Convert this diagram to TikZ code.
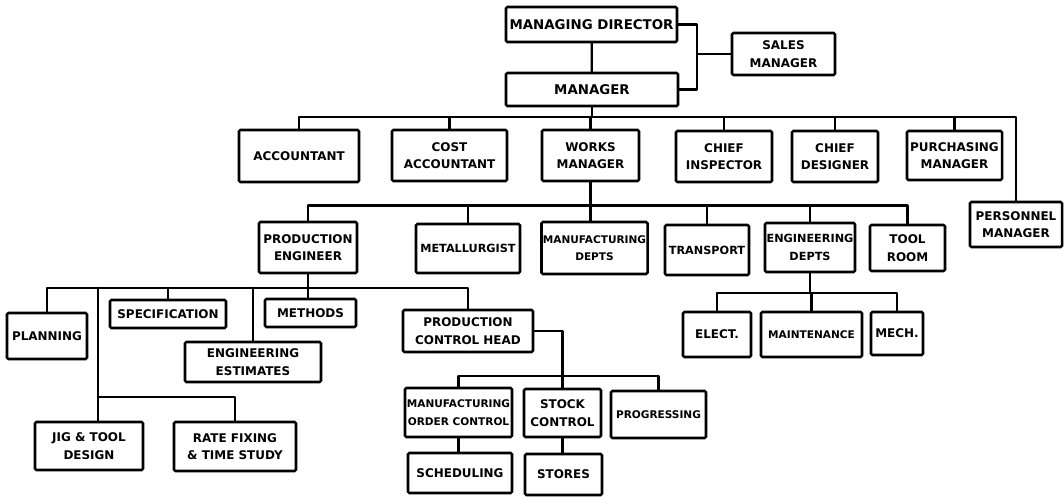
\documentclass[tikz,border=0pt]{standalone}
\usepackage{fontspec}
\setmainfont{DejaVu Sans}
\tikzset{
  orgbox/.style={draw, line width=1.8pt, rounded corners=1pt, inner sep=1pt, align=center,
    font=\fontsize{8.5}{12.5}\selectfont\bfseries},
  link/.style={line width=1.6pt, line cap=round, line join=round},
  small/.style={font=\fontsize{7.5}{12.5}\selectfont\bfseries},
  mid/.style={font=\fontsize{8}{12.5}\selectfont\bfseries},
  big/.style={font=\fontsize{9.5}{12.5}\selectfont\bfseries}
}
\newcommand{\orgnode}[7][]{%
  \pgfmathsetmacro\obw{(#5-#3)*0.025}%
  \pgfmathsetmacro\obh{(#6-#4)*0.025}%
  \node[orgbox, minimum width=\obw cm, minimum height=\obh cm, #1] (#2) at ({(#3+#5)/2},{(#4+#6)/2}) {#7};}
\begin{document}
\begin{tikzpicture}[x=0.025cm, y=-0.025cm]
\useasboundingbox (0,0) rectangle (1064,497);
% level 0/1
\orgnode[big]{md}{506}{7}{677}{42}{MANAGING DIRECTOR}
\orgnode[big]{mgr}{506}{73}{678}{106}{MANAGER}
\orgnode{sales}{732}{33}{835}{75}{SALES\\MANAGER}
% level 2
\orgnode{acc}{239}{130}{359}{182}{ACCOUNTANT}
\orgnode{cost}{392}{130}{507}{181}{COST\\ACCOUNTANT}
\orgnode{works}{542}{130}{639}{181}{WORKS\\MANAGER}
\orgnode{ci}{676}{131}{772}{182}{CHIEF\\INSPECTOR}
\orgnode{cd}{792}{131}{878}{182}{CHIEF\\DESIGNER}
\orgnode{pm}{907}{131}{1002}{180}{PURCHASING\\MANAGER}
\orgnode{pers}{970}{202}{1062}{247}{PERSONNEL\\MANAGER}
% level 3
\orgnode{pe}{259}{222}{357}{273}{PRODUCTION\\ENGINEER}
\orgnode[mid]{met}{416}{224}{520}{273}{METALLURGIST}
\orgnode[small]{mfg}{542}{222}{647}{274}{MANUFACTURING\\DEPTS}
\orgnode[mid]{trans}{665}{225}{749}{275}{TRANSPORT}
\orgnode[mid]{eng}{765}{223}{855}{272}{ENGINEERING\\DEPTS}
\orgnode{tool}{870}{225}{945}{271}{TOOL\\ROOM}
% engineering depts
\orgnode{elect}{683}{312}{751}{357}{ELECT.}
\orgnode[small]{maint}{761}{312}{862}{357}{MAINTENANCE}
\orgnode{mech}{871}{312}{923}{355}{MECH.}
% production engineer
\orgnode{plan}{7}{313}{87}{359}{PLANNING}
\orgnode{spec}{110}{300}{226}{328}{SPECIFICATION}
\orgnode{meth}{265}{299}{356}{327}{METHODS}
\orgnode{est}{185}{342}{321}{382}{ENGINEERING\\ESTIMATES}
\orgnode{pch}{403}{310}{533}{352}{PRODUCTION\\CONTROL HEAD}
\orgnode{jig}{35}{422}{143}{470}{JIG \& TOOL\\DESIGN}
\orgnode{rate}{174}{422}{296}{471}{RATE FIXING\\\& TIME STUDY}
% production control
\orgnode[small]{moc}{405}{388}{512}{437}{MANUFACTURING\\ORDER CONTROL}
\orgnode{stock}{524}{389}{601}{437}{STOCK\\CONTROL}
\orgnode[small]{prog}{611}{391}{706}{438}{PROGRESSING}
\orgnode{sched}{408}{453}{512}{493}{SCHEDULING}
\orgnode{stores}{525}{454}{602}{495}{STORES}
% bus coordinates
\coordinate (sb) at (697,54);
\coordinate (b2) at (0,117);
\coordinate (b3) at (0,205.5);
\coordinate (b4) at (0,288);
\coordinate (b5) at (0,376);
\coordinate (b6) at (0,293);
\coordinate (b7) at (0,397);
\coordinate (jl) at (98,288);
% connectors
\draw[link] (md) -- (mgr);
\draw[link] (md.east) -| (sb) |- (mgr.east);
\draw[link] (sb) -- (sales.west);
\draw[link] (mgr.south) -- (mgr.south |- b2);
\draw[link] (acc.north) |- (pers.north |- b2) -- (pers.north);
\foreach \n in {cost,works,ci,cd,pm} \draw[link] (\n.north) -- (\n.north |- b2);
\draw[link] (works.south) -- (works.south |- mfg.north);
\draw[link] (pe.north) |- (tool.north |- b3) -- (tool.north);
\foreach \n in {met,trans,eng} \draw[link] (\n.north) -- (\n.north |- b3);
\draw[link] (eng.south) -- (eng.south |- b6);
\draw[link] (elect.north) |- (mech.north |- b6) -- (mech.north);
\draw[link] (maint.north) -- (maint.north |- b6);
\draw[link] (pe.south) -- (pe.south |- meth.north);
\draw[link] (plan.north) |- (pch.north |- b4) -- (pch.north);
\foreach \n in {spec,est} \draw[link] (\n.north) -- (\n.north |- b4);
\draw[link] (jl) -- (jl |- jig.north);
\draw[link] (jl |- b7) -| (rate.north);
\draw[link] (pch.east) -| (stock.north);
\draw[link] (moc.north) |- (prog.north |- b5) -- (prog.north);
\draw[link] (moc.south) -- (moc.south |- sched.north);
\draw[link] (stock.south) -- (stock.south |- stores.north);
\end{tikzpicture}
\end{document}
